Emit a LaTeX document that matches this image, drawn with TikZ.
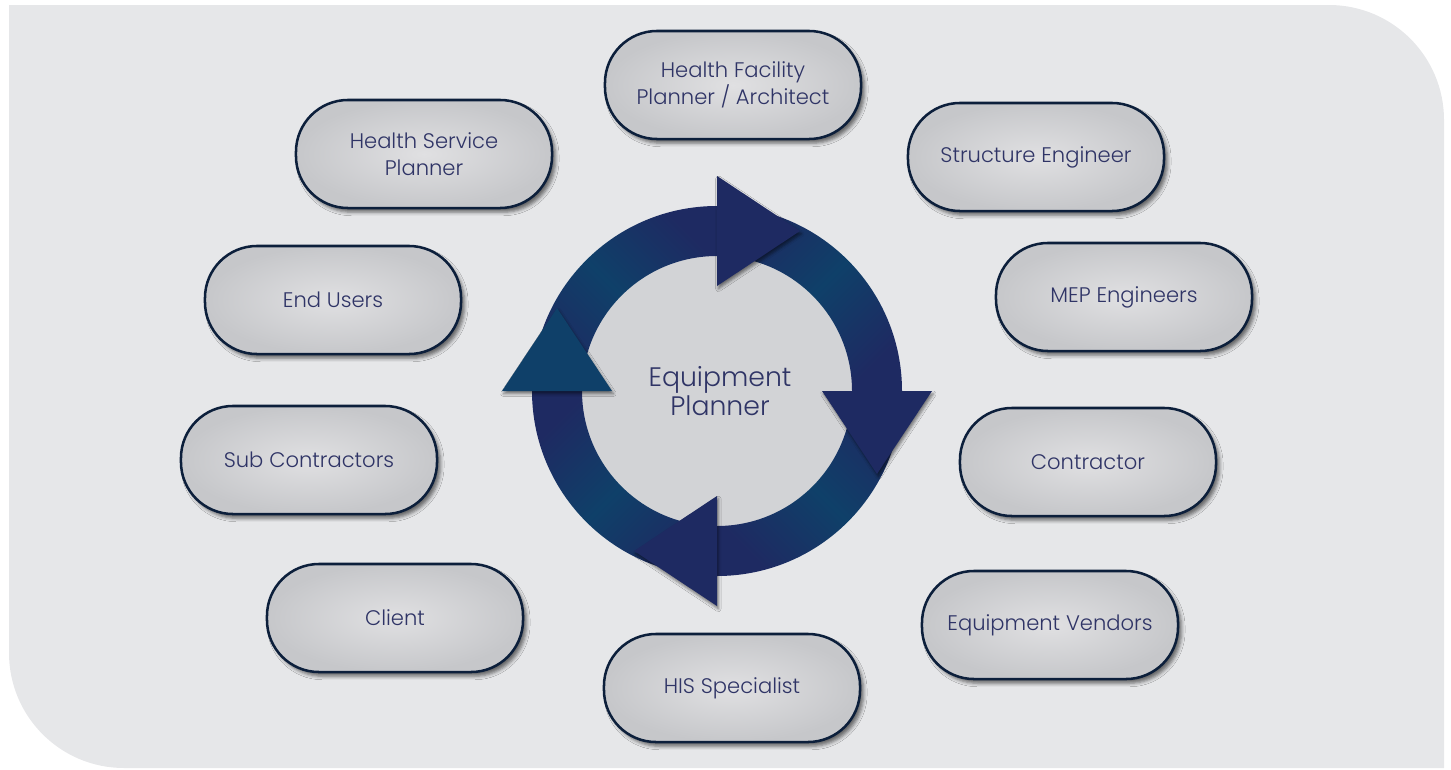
\documentclass[tikz,border=0pt]{standalone}
\usepackage{fontspec}
\setmainfont{Poppins Light}
\usetikzlibrary{shadows.blur}
\definecolor{bggray}{HTML}{E6E7E9}
\definecolor{discgray}{HTML}{D2D3D6}
\definecolor{ringnavy}{HTML}{1E2A62}
\definecolor{ringteal}{HTML}{0F4069}
\definecolor{pillline}{HTML}{0C1F3B}
\definecolor{pillmid}{HTML}{E0E0E2}
\definecolor{pilledge}{HTML}{C6C7CA}
\definecolor{textnavy}{HTML}{2F3466}

\begin{document}
\begin{tikzpicture}[
    x=0.025cm, y=-0.025cm,
    pill/.style={rectangle, draw=pillline, line width=1.8pt,
                 inner color=pillmid, outer color=pilledge,
                 minimum width=6.4cm, minimum height=2.7cm,
                 rounded corners=1.3cm, align=center, text=textnavy,
                 font=\fontsize{15}{19}\selectfont,
                 blur shadow={shadow xshift=2.5pt, shadow yshift=-3pt,
                              shadow opacity=55, shadow blur radius=2.5pt}},
    ringbody/.style={top color=ringnavy, bottom color=ringnavy, middle color=ringteal},
    ringhead/.style={blur shadow={shadow xshift=1pt, shadow yshift=-2pt,
                                  shadow opacity=50, shadow blur radius=2pt}}
]
\useasboundingbox (0,0) rectangle (1451,769);

\fill[bggray] (9,5) -- (1329,5) arc[start angle=-90, end angle=0, radius=115]
    -- (1444,768) -- (124,768) arc[start angle=90, end angle=180, radius=115] -- cycle;

\coordinate (ctr) at (717,391);
\fill[discgray] (ctr) circle[radius=137];

\foreach \a/\s in {-180/-45, -90/45, 0/-45, 90/45}
  \path[ringbody, shading angle=\s] ([shift={(\a:185)}]ctr)
    arc[start angle=\a, end angle=\a+90, radius=185]
    -- ([shift={(\a+90:135)}]ctr)
    arc[start angle=\a+90, end angle=\a, radius=135] -- cycle;

\foreach \a/\c in {-90/ringnavy, 0/ringnavy, 90/ringnavy, 180/ringteal}
  \fill[ringhead, fill=\c] ([shift={(\a:105)}]ctr) -- ([shift={(\a:215)}]ctr)
    -- ([shift={(\a+27.4:180.2)}]ctr) -- cycle;

\node[font=\fontsize{19}{21}\selectfont, text=textnavy, align=center] (eqp) at (720,391) {Equipment\\Planner};

\node[pill] (hfp) at (733,85) {Health Facility\\Planner / Architect};
\node[pill] (hsp) at (424,154) {Health Service\\Planner};
\node[pill] (stre) at (1036,157) {Structure Engineer};
\node[pill] (endu) at (333,300) {End Users};
\node[pill] (mep) at (1124,297) {MEP Engineers};
\node[pill] (subc) at (309,460) {Sub Contractors};
\node[pill] (contr) at (1088,462) {Contractor};
\node[pill] (client) at (395,618) {Client};
\node[pill] (vend) at (1050,625) {Equipment Vendors};
\node[pill] (his) at (732,688) {HIS Specialist};

\end{tikzpicture}
\end{document}
